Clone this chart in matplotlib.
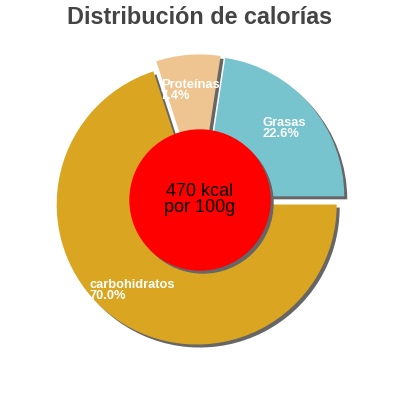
import numpy as np
import matplotlib.pyplot as plt
from matplotlib.patches import Circle

plt.rcParams['font.family'] = ['Liberation Sans', 'DejaVu Sans']

nutrients = ['Grasas', 'Proteínas', 'carbohidratos']
percents = [22.6, 7.4, 70.0]
colors = ['#77c4ce', '#eec591', '#daa520']
kcal = 470

R = 140.0          # pie radius in pixels
sh = 3.0 / R       # shadow offset
explode = [0.04, 0.04, 0.04]

fig = plt.figure(figsize=(4, 4), dpi=100)
ax = fig.add_axes([0, 0, 1, 1])

# shadows first
ax.pie(percents, explode=explode, colors=['#666666'] * 3, startangle=0,
       counterclock=True, center=(sh, -sh), radius=1.0,
       wedgeprops=dict(linewidth=0))
wedges, _ = ax.pie(percents, explode=explode, colors=colors, startangle=0,
                   counterclock=True, center=(0, 0), radius=1.0,
                   wedgeprops=dict(linewidth=0))

# central circle with shadow
ax.add_patch(Circle((sh, -sh), 0.5, color='#666666', zorder=5))
ax.add_patch(Circle((0, 0), 0.5, color='#ff0000', zorder=6))
ax.text(0, 0.005, f'{kcal} kcal\npor 100g', ha='center', va='center',
        fontsize=13, color='black', linespacing=0.95, zorder=7)

# data labels (anchor = left, baseline of the last line)
label_pos = [(0.443, 0.45), (-0.279, 0.721), (-0.786, -0.707)]
for name, p, (lx, ly) in zip(nutrients, percents, label_pos):
    ax.text(lx, ly, f'{name}\n{p:.1f}%', ha='left', va='baseline',
            fontsize=9.3, fontweight='bold', color='white',
            linespacing=0.85, zorder=8)

lim = 200 / R
ax.set_xlim(-lim, lim)
ax.set_ylim(-lim, lim)
ax.set_aspect('equal')
ax.axis('off')

fig.text(0.5, 1 - 18 / 400, 'Distribución de calorías', ha='center',
         va='center', fontsize=16.8, fontweight='bold', color='#444444')

fig.savefig('out.png', dpi=100)
